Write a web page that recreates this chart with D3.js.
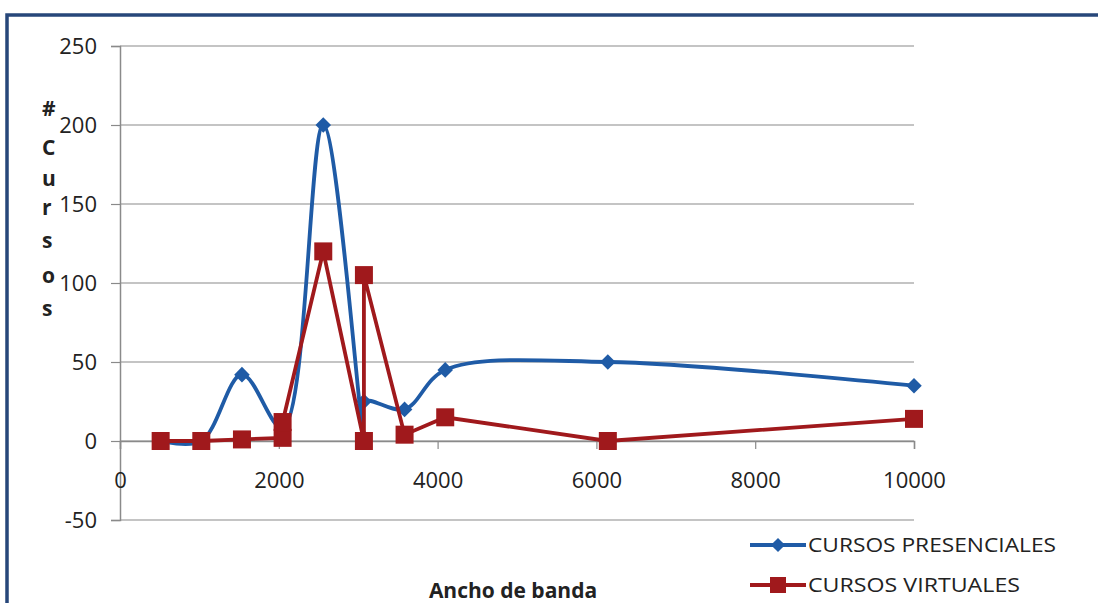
<!DOCTYPE html>
<html>
<head>
<meta charset="utf-8">
<script src="https://cdn.jsdelivr.net/npm/d3@7"></script>
<style>
  body { margin: 0; background: #fff; }
  svg { display: block; }
  text { font-family: "Open Sans", "Noto Sans", sans-serif; fill: #222; }
</style>
</head>
<body>
<svg id="canvas" width="1098" height="603"></svg>
<script>
// bandwidth (x) and number of courses (y)
var presX = [512, 1024, 1536, 2048, 2560, 3072, 3072, 3584, 4096, 6144, 10000]
var presY = [0, 0, 42, 8, 200, 2, 25, 20, 45, 50, 35]
var virtX = [512, 1024, 1536, 2048, 2048, 2560, 3072, 3072, 3584, 4096, 6144, 10000]
var virtY = [0, 0, 1, 2, 12, 120, 0, 105, 4, 15, 0, 14]
var xTicks = [0, 2000, 4000, 6000, 8000, 10000]
var yTicks = [-50, 0, 50, 100, 150, 200, 250]
var seriesNames = ["CURSOS PRESENCIALES", "CURSOS VIRTUALES"]
var yTitle = ["#", "C", "u", "r", "s", "o", "s"]

var blue = "#1f5ba6", red = "#a0191c"

var svg = d3.select("#canvas")

// outer frame (dark blue border at top and left)
svg.append("path")
  .attr("d", "M7,603 V15 H1098")
  .attr("fill", "none")
  .attr("stroke", "#27477a")
  .attr("stroke-width", 3.5)

var x = d3.scaleLinear().domain([0, 10000]).range([120, 914])
var y = d3.scaleLinear().domain([-50, 250]).range([520, 46])

// gridlines
svg.append("g")
  .selectAll("line")
  .data(yTicks)
  .join("line")
  .attr("x1", x(0)).attr("x2", x(10000))
  .attr("y1", d => y(d)).attr("y2", d => y(d))
  .attr("stroke", "#8a8a8a")
  .attr("stroke-width", 1.2)

// y axis
var yAxis = svg.append("g")
  .attr("transform", "translate(" + x(0) + ",0)")
  .call(d3.axisLeft(y).tickValues(yTicks).tickSize(9).tickPadding(14).tickFormat(d => String(d)))
yAxis.select(".domain").attr("stroke", "#8a8a8a").attr("stroke-width", 1.5)
yAxis.selectAll(".tick line").attr("stroke", "#8a8a8a").attr("stroke-width", 1.2)
yAxis.selectAll(".tick text")
  .style("font-family", "'Open Sans', sans-serif")
  .style("font-size", "22px")
  .attr("fill", "#222")

// x axis at y = 0
var xAxis = svg.append("g")
  .attr("transform", "translate(0," + y(0) + ")")
  .call(d3.axisBottom(x).tickValues(xTicks).tickSize(8).tickPadding(23).tickFormat(d => String(d)))
xAxis.select(".domain").attr("stroke", "#8a8a8a").attr("stroke-width", 1.5)
xAxis.selectAll(".tick line").attr("stroke", "#8a8a8a").attr("stroke-width", 1.2)
xAxis.selectAll(".tick text")
  .style("font-family", "'Open Sans', sans-serif")
  .style("font-size", "22px")
  .attr("fill", "#222")

// y axis title, stacked letters
svg.append("g")
  .selectAll("text")
  .data(yTitle)
  .join("text")
  .attr("x", 42)
  .attr("y", (d, i) => [116, 155, 186, 215, 248, 283, 316][i])
  .style("font-size", "21px")
  .style("font-weight", "bold")
  .text(d => d)

// x axis title
svg.append("text")
  .attr("x", 513).attr("y", 598)
  .attr("text-anchor", "middle")
  .style("font-size", "21px")
  .style("font-weight", "bold")
  .text("Ancho de banda")

// lines
var presData = presX.map((d, i) => [d, presY[i]])
var virtData = virtX.map((d, i) => [d, virtY[i]])

var smooth = d3.line().x(d => x(d[0])).y(d => y(d[1])).curve(d3.curveCatmullRom.alpha(0.5))
var straight = d3.line().x(d => x(d[0])).y(d => y(d[1]))

svg.append("path")
  .datum(presData)
  .attr("d", smooth)
  .attr("fill", "none")
  .attr("stroke", blue)
  .attr("stroke-width", 3.8)

svg.append("g")
  .selectAll("path")
  .data(presData)
  .join("path")
  .attr("transform", d => "translate(" + x(d[0]) + "," + y(d[1]) + ") rotate(45)")
  .attr("d", "M-5.5,-5.5H5.5V5.5H-5.5Z")
  .attr("fill", blue)

svg.append("path")
  .datum(virtData)
  .attr("d", straight)
  .attr("fill", "none")
  .attr("stroke", red)
  .attr("stroke-width", 3.8)

svg.append("g")
  .selectAll("rect")
  .data(virtData)
  .join("rect")
  .attr("x", d => x(d[0]) - 9)
  .attr("y", d => y(d[1]) - 9)
  .attr("width", 18).attr("height", 18)
  .attr("fill", red)

// legend
var legend = svg.append("g")
var ly = [545, 585]
var lc = [blue, red]
seriesNames.forEach(function(name, i) {
  legend.append("line")
    .attr("x1", 750).attr("x2", 806)
    .attr("y1", ly[i]).attr("y2", ly[i])
    .attr("stroke", lc[i]).attr("stroke-width", 3.8)
  if (i == 0) {
    legend.append("path")
      .attr("transform", "translate(778," + ly[i] + ") rotate(45)")
      .attr("d", "M-5,-5H5V5H-5Z")
      .attr("fill", lc[i])
  } else {
    legend.append("rect")
      .attr("x", 770).attr("y", ly[i] - 8)
      .attr("width", 16).attr("height", 16)
      .attr("fill", lc[i])
  }
  legend.append("text")
    .attr("x", 808).attr("y", ly[i] + 7)
    .attr("textLength", i == 0 ? 248 : 212)
    .attr("lengthAdjust", "spacingAndGlyphs")
    .style("font-size", "20px")
    .text(name)
})
</script>
</body>
</html>
